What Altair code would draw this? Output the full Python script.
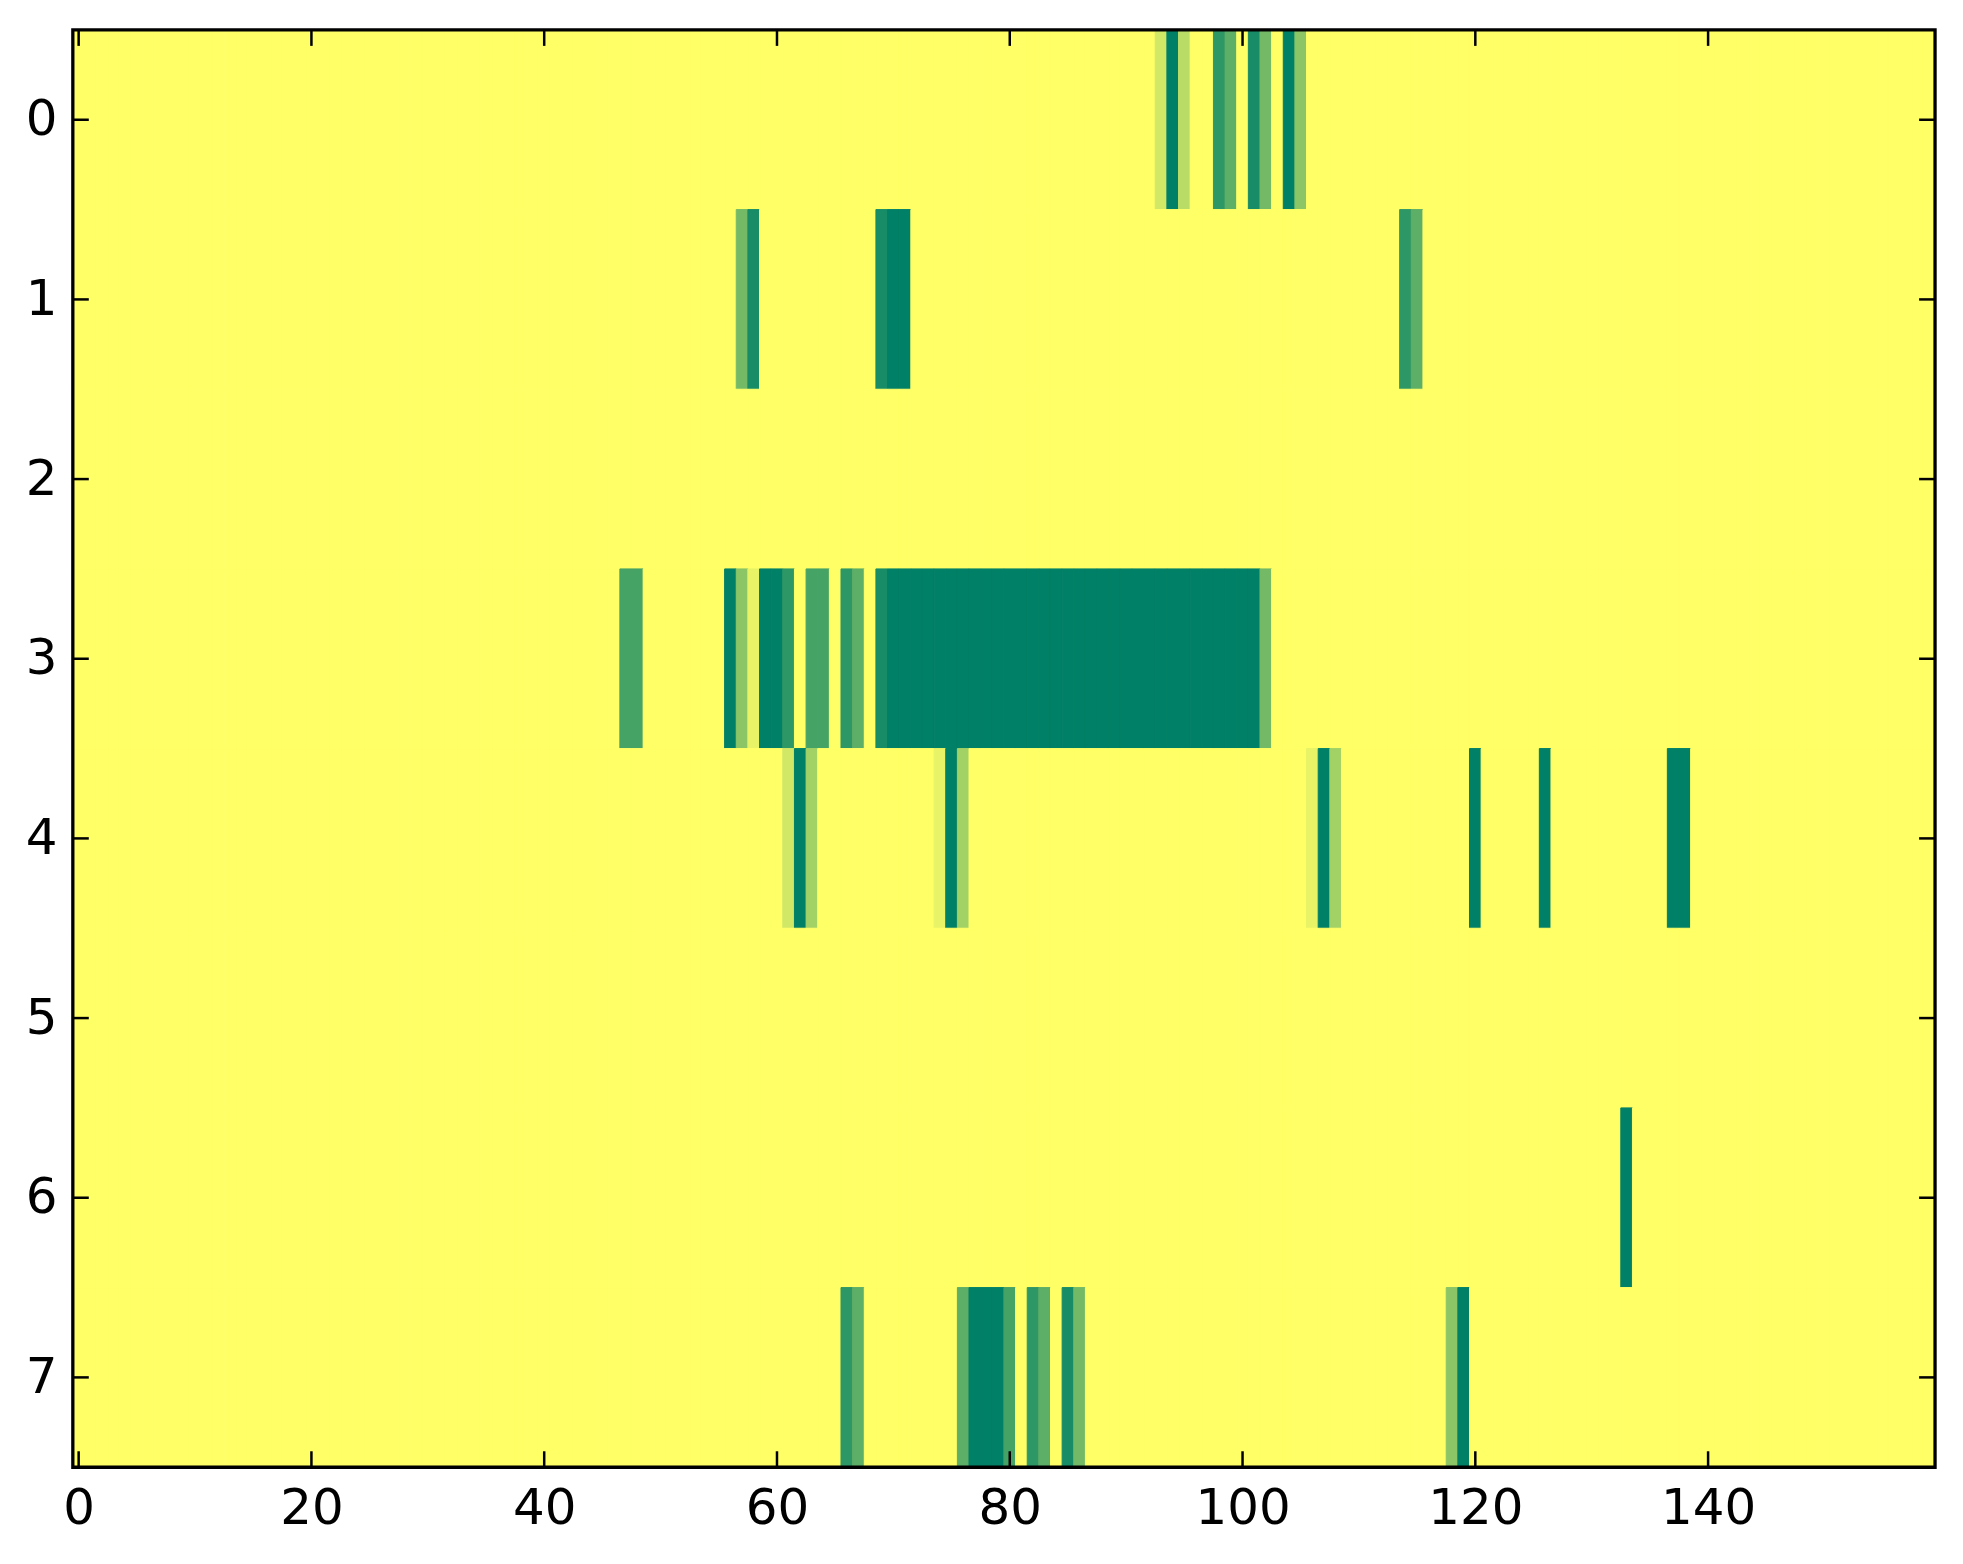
import altair as alt
import pandas as pd

N_COLS = 160
row_labels = [0, 1, 2, 3, 4, 5, 6, 7]
x_ticks = [0, 20, 40, 60, 80, 100, 120, 140]
LEVEL_MAX = 11

row0_cols = [93, 94, 95, 98, 99, 101, 102, 104, 105]
row0_vals = [2, 11, 3, 9, 7, 10, 6, 11, 5]

row1_cols = [57, 58, 69, 70, 71, 114, 115]
row1_vals = [6, 10, 10, 11, 11, 9, 7]

row2_cols = []
row2_vals = []

row3_cols = [47, 48, 56, 57, 58, 59, 60, 61, 63, 64, 66, 67, 69,
             70, 71, 72, 73, 74, 75, 76, 77, 78, 79, 80, 81, 82, 83, 84, 85,
             86, 87, 88, 89, 90, 91, 92, 93, 94, 95, 96, 97, 98, 99, 100, 101,
             102]
row3_vals = [8, 8, 11, 5, 1, 11, 11, 9, 8, 8, 9, 7, 10,
             11, 11, 11, 11, 11, 11, 11, 11, 11, 11, 11, 11, 11, 11, 11, 11,
             11, 11, 11, 11, 11, 11, 11, 11, 11, 11, 11, 11, 11, 11, 11, 11,
             6]

row4_cols = [61, 62, 63, 74, 75, 76, 106, 107, 108, 120, 126, 137, 138]
row4_vals = [2, 11, 4, 1, 11, 4, 1, 11, 4, 11, 11, 11, 11]

row5_cols = []
row5_vals = []

row6_cols = [133]
row6_vals = [11]

row7_cols = [66, 67, 76, 77, 78, 79, 80, 82, 83, 85, 86, 118, 119]
row7_vals = [9, 7, 7, 11, 11, 11, 8, 9, 7, 10, 6, 5, 11]

rows = [
    (row0_cols, row0_vals), (row1_cols, row1_vals), (row2_cols, row2_vals),
    (row3_cols, row3_vals), (row4_cols, row4_vals), (row5_cols, row5_vals),
    (row6_cols, row6_vals), (row7_cols, row7_vals),
]

records = []
for r, (cols, vals) in enumerate(rows):
    lookup = dict(zip(cols, vals))
    for c in range(N_COLS):
        records.append({"row": r, "col": c, "v": lookup.get(c, 0)})
df = pd.DataFrame(records)

# ---- layout ----
W, H = 1867, 1441
TICK = 16
FONT = "DejaVu Sans"

xscale = alt.Scale(domain=[-0.5, N_COLS - 0.5], nice=False, zero=False)
yscale = alt.Scale(domain=[-0.5, 7.5], nice=False, zero=False, reverse=True)
cscale = alt.Scale(domain=[0, LEVEL_MAX], range=["#ffff66", "#008066"], interpolate="rgb")

axis_common = dict(title=None, ticks=False, domain=False, grid=False,
                   labelFontSize=50, labelFont=FONT, labelColor="black",
                   labelPadding=16, labelFlush=False, labelOverlap=False,
                   format="d")
x_axis = alt.Axis(values=x_ticks, **axis_common)
y_axis = alt.Axis(values=row_labels, **axis_common)

heat = alt.Chart(df).transform_calculate(
    x0="datum.col - 0.5", x1="datum.col + 0.5",
    y0="datum.row - 0.5", y1="datum.row + 0.5",
).mark_rect(strokeWidth=1).encode(
    x=alt.X("x0:Q", scale=xscale, axis=x_axis),
    x2="x1:Q",
    y=alt.Y("y0:Q", scale=yscale, axis=y_axis),
    y2="y1:Q",
    color=alt.Color("v:Q", scale=cscale, legend=None),
    stroke=alt.Stroke("v:Q", scale=cscale, legend=None),
)

xt = pd.DataFrame({"t": x_ticks})
yt = pd.DataFrame({"t": row_labels})

tick_style = dict(color="black", strokeWidth=2.5)
x_top = alt.Chart(xt).mark_rule(**tick_style).encode(
    x=alt.X("t:Q", scale=xscale, axis=x_axis), y=alt.value(0), y2=alt.value(TICK))
x_bot = alt.Chart(xt).mark_rule(**tick_style).encode(
    x=alt.X("t:Q", scale=xscale, axis=x_axis), y=alt.value(H - TICK), y2=alt.value(H))
y_left = alt.Chart(yt).mark_rule(**tick_style).encode(
    y=alt.Y("t:Q", scale=yscale, axis=y_axis), x=alt.value(0), x2=alt.value(TICK))
y_right = alt.Chart(yt).mark_rule(**tick_style).encode(
    y=alt.Y("t:Q", scale=yscale, axis=y_axis), x=alt.value(W - TICK), x2=alt.value(W))

frame = alt.Chart(pd.DataFrame({"k": [0]})).mark_rect(
    fill=None, stroke="black", strokeWidth=3.3
).encode(x=alt.value(0), x2=alt.value(W), y=alt.value(0), y2=alt.value(H))

chart = alt.layer(heat, x_top, x_bot, y_left, y_right, frame).properties(
    width=W, height=H,
    padding={"left": 65, "top": 20, "right": 20, "bottom": 80},
    autosize=alt.AutoSizeParams(type="none"),
).configure_view(stroke=None).configure(background="white")

chart.save("out.html", embed_options={"renderer": "svg", "actions": False})
